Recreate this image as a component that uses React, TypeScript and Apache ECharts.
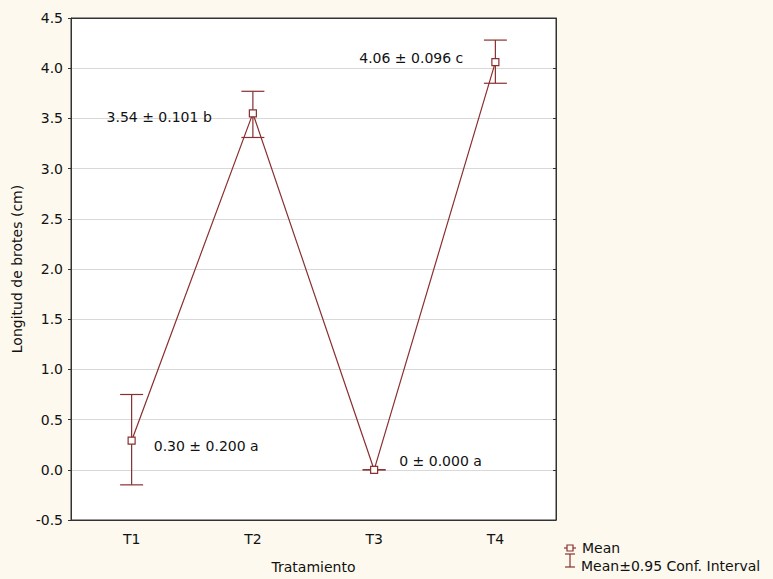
import React, { useEffect, useRef } from "react";
import * as echarts from "echarts";

const categories = ["T1", "T2", "T3", "T4"];
const means = [0.29, 3.55, 0, 4.06];
const lowerCI = [-0.15, 3.31, 0, 3.85];
const upperCI = [0.75, 3.77, 0, 4.28];
const pointLabels = ["0.30 ± 0.200 a", "3.54 ± 0.101 b", "0 ± 0.000 a", "4.06 ± 0.096 c"];
const yTicks = { min: -0.5, max: 4.5, interval: 0.5 };

const RED = "#8a2f2f";
const TXT = "#111111";
const FONT = "'DejaVu Sans', 'Liberation Sans', Arial, sans-serif";

export default function App() {
  const ref = useRef<HTMLDivElement>(null);
  useEffect(() => {
    if (!ref.current) return;
    const chart = echarts.init(ref.current, null, { renderer: "svg" });
    const labelPos: any[] = [
      { position: "right", distance: 18, offset: [0, 5] },
      { position: "left", distance: 37, offset: [0, 4] },
      { position: "right", distance: 21, offset: [0, -9] },
      { position: "left", distance: 28, offset: [0, -4] },
    ];
    chart.setOption({
      animation: false,
      backgroundColor: "#fdf9ee",
      textStyle: { fontFamily: FONT },
      grid: {
        left: 71,
        right: 217,
        top: 18,
        bottom: 58,
        show: true,
        backgroundColor: "#ffffff",
        borderColor: "#333",
        borderWidth: 1,
      },
      xAxis: [
        {
          type: "category",
          data: categories,
          boundaryGap: true,
          name: "Tratamiento",
          nameLocation: "middle",
          nameGap: 40,
          nameTextStyle: { fontSize: 14, color: TXT, fontFamily: FONT },
          axisLine: { onZero: false, lineStyle: { color: "#333" } },
          axisTick: { inside: true, alignWithLabel: true, length: 3, lineStyle: { color: "#333" } },
          axisLabel: { fontSize: 14, color: TXT, margin: 12, fontFamily: FONT },
          splitLine: { show: false },
        },
        {
          type: "category",
          data: categories,
          position: "top",
          boundaryGap: true,
          axisLine: { onZero: false, lineStyle: { color: "#333" } },
          axisTick: { inside: true, alignWithLabel: true, length: 3, lineStyle: { color: "#333" } },
          axisLabel: { show: false },
        },
      ],
      yAxis: [
        {
          type: "value",
          min: yTicks.min,
          max: yTicks.max,
          interval: yTicks.interval,
          name: "Longitud de brotes (cm)",
          nameLocation: "middle",
          nameGap: 47,
          nameTextStyle: { fontSize: 14, color: TXT, fontFamily: FONT },
          axisLine: { show: true, onZero: false, lineStyle: { color: "#333" } },
          axisTick: { show: true, length: 3, lineStyle: { color: "#333" } },
          axisLabel: {
            fontSize: 14,
            color: TXT,
            margin: 8,
            fontFamily: FONT,
            formatter: (v: number) => v.toFixed(1),
          },
          splitLine: { show: true, lineStyle: { color: "#d9d9d9", width: 1 } },
        },
        {
          type: "value",
          min: yTicks.min,
          max: yTicks.max,
          interval: yTicks.interval,
          position: "right",
          axisLine: { show: true, onZero: false, lineStyle: { color: "#333" } },
          axisTick: { show: true, inside: true, length: 3, lineStyle: { color: "#333" } },
          axisLabel: { show: false },
          splitLine: { show: false },
        },
      ],
      series: [
        {
          name: "Mean±0.95 Conf. Interval",
          type: "custom",
          z: 3,
          data: categories.map((_, i) => [i, lowerCI[i], upperCI[i]]),
          renderItem: (params: any, api: any) => {
            const x = api.value(0);
            const lo = api.coord([x, api.value(1)]);
            const hi = api.coord([x, api.value(2)]);
            const hw = 11.5;
            const style = { stroke: RED, lineWidth: 1.2, fill: "none" };
            return {
              type: "group",
              children: [
                { type: "line", shape: { x1: hi[0], y1: hi[1], x2: lo[0], y2: lo[1] }, style },
                { type: "line", shape: { x1: hi[0] - hw, y1: hi[1], x2: hi[0] + hw, y2: hi[1] }, style },
                { type: "line", shape: { x1: lo[0] - hw, y1: lo[1], x2: lo[0] + hw, y2: lo[1] }, style },
              ],
            };
          },
        },
        {
          name: "Mean",
          type: "line",
          z: 4,
          data: means.map((v, i) => ({
            value: v,
            label: {
              show: true,
              formatter: pointLabels[i],
              fontSize: 14,
              color: TXT,
              fontFamily: FONT,
              ...labelPos[i],
            },
          })),
          symbol: "rect",
          symbolSize: 7,
          showSymbol: true,
          lineStyle: { color: RED, width: 1.2 },
          itemStyle: { color: "#ffffff", borderColor: RED, borderWidth: 1.2 },
        },
      ],
      graphic: [
        { type: "line", shape: { x1: 564, y1: 548, x2: 576, y2: 548 }, style: { stroke: RED, lineWidth: 1.2 } },
        { type: "rect", shape: { x: 567, y: 545, width: 6, height: 6 }, style: { stroke: RED, fill: "#fdf9ee", lineWidth: 1.2 } },
        { type: "text", x: 582, y: 548, style: { text: "Mean", fontSize: 14, fill: TXT, fontFamily: FONT, verticalAlign: "middle" } },
        { type: "line", shape: { x1: 570, y1: 554, x2: 570, y2: 567 }, style: { stroke: RED, lineWidth: 1.2 } },
        { type: "line", shape: { x1: 565, y1: 554, x2: 575, y2: 554 }, style: { stroke: RED, lineWidth: 1.2 } },
        { type: "line", shape: { x1: 565, y1: 567, x2: 575, y2: 567 }, style: { stroke: RED, lineWidth: 1.2 } },
        { type: "text", x: 581, y: 566, style: { text: "Mean±0.95 Conf. Interval", fontSize: 14, fill: TXT, fontFamily: FONT, verticalAlign: "middle" } },
      ],
    });
    return () => chart.dispose();
  }, []);
  return <div ref={ref} style={{ width: 773, height: 579, position: "absolute", left: 0, top: 0 }} />;
}
